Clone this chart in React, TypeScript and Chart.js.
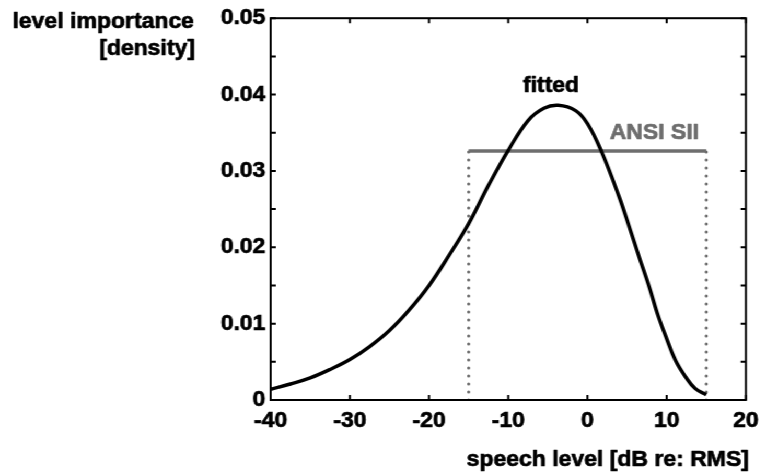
import React, { useEffect, useRef } from 'react';
import { Chart, registerables } from 'chart.js';

Chart.register(...registerables);

// ---- data ----
const fittedLevels = [-40, -37.5, -35, -32.5, -30, -27.5, -25, -22.5, -20, -17.5, -15, -12.5, -10, -7.5, -5.5, -3.7, -1.5, 0, 1.75, 4, 5.3, 6.5, 7.8, 8.8, 9.9, 11.1, 12.4, 13.6, 15];
const fittedDensity = [0.0014, 0.0021, 0.0029, 0.004, 0.0053, 0.007, 0.0091, 0.0118, 0.015, 0.0189, 0.0231, 0.0281, 0.0327, 0.0366, 0.0382, 0.0386, 0.0379, 0.0362, 0.0326, 0.0266, 0.0226, 0.0188, 0.0148, 0.0114, 0.0083, 0.0052, 0.003, 0.0015, 0.0007];
const ansiLevels = [-15, 15];
const ansiDensity = 0.0326;
const xTickValues = [-40, -30, -20, -10, 0, 10, 20];
const yLabelValues = [0, 0.01, 0.02, 0.03, 0.04, 0.05];
const yTitleLines = ['level importance', '[density]'];
const xTitle = 'speech level [dB re: RMS]';
const fittedLabel = 'fitted';
const ansiLabel = 'ANSI SII';

const SX = 1.045;
const W = 734;
const H = 474;
const FONT = '"Liberation Sans", Arial, Helvetica, sans-serif';
const FS = 22;
const GRAY = '#6e6e6e';
const STROKE = 0.7;

const frame = {
  id: 'frame',
  afterDraw(chart: any) {
    const { ctx, chartArea: a, scales } = chart;
    const x = scales.x;
    const y = scales.y;
    ctx.save();
    ctx.strokeStyle = '#000';
    ctx.lineWidth = 2;
    ctx.strokeRect(a.left, a.top, a.right - a.left, a.bottom - a.top);
    const tl = 5;
    ctx.beginPath();
    x.ticks.forEach((t: any) => {
      const px = x.getPixelForValue(t.value);
      ctx.moveTo(px, a.bottom);
      ctx.lineTo(px, a.bottom - tl);
      ctx.moveTo(px, a.top);
      ctx.lineTo(px, a.top + tl);
    });
    y.ticks.forEach((t: any) => {
      const py = y.getPixelForValue(t.value);
      ctx.moveTo(a.left, py);
      ctx.lineTo(a.left + tl, py);
      ctx.moveTo(a.right, py);
      ctx.lineTo(a.right - tl, py);
    });
    ctx.stroke();

    const txt = (s: string, px: number, py: number, color: string) => {
      ctx.fillStyle = color;
      ctx.strokeStyle = color;
      ctx.lineWidth = STROKE;
      ctx.lineJoin = 'round';
      ctx.fillText(s, px, py);
      ctx.strokeText(s, px, py);
    };

    ctx.font = `bold ${FS}px ${FONT}`;
    ctx.textBaseline = 'alphabetic';
    ctx.textAlign = 'right';
    txt(yTitleLines[0], 185.6, 28, '#000');
    txt(yTitleLines[1], 186.6, 55, '#000');
    txt(xTitle, 716.7, 466, '#000');

    ctx.textAlign = 'center';
    txt(fittedLabel, x.getPixelForValue(-4.6), y.getPixelForValue(0.0403), '#000');
    ctx.textAlign = 'left';
    txt(ansiLabel, x.getPixelForValue(2.8), y.getPixelForValue(0.0342), GRAY);
    ctx.restore();
  },
};

export default function App() {
  const ref = useRef<HTMLCanvasElement | null>(null);

  useEffect(() => {
    document.body.style.margin = '0';
    const canvas = ref.current;
    if (!canvas) return;
    const dotted = {
      borderColor: '#6a6a6a',
      borderWidth: 3,
      borderDash: [0, 8],
      borderCapStyle: 'round',
      pointRadius: 0,
      fill: false,
    };
    const tickFont = { family: FONT, size: FS, weight: 'bold' };
    const chart = new Chart(canvas, {
      type: 'line',
      data: {
        datasets: [
          {
            label: fittedLabel,
            data: fittedLevels.map((v, i) => ({ x: v, y: fittedDensity[i] })),
            borderColor: '#000',
            borderWidth: 3.5,
            pointRadius: 0,
            tension: 0.4,
            fill: false,
          },
          {
            label: ansiLabel,
            data: ansiLevels.map((v) => ({ x: v, y: ansiDensity })),
            borderColor: GRAY,
            borderWidth: 3.5,
            pointRadius: 0,
            fill: false,
          },
          {
            label: 'lower',
            data: [{ x: ansiLevels[0], y: 0 }, { x: ansiLevels[0], y: ansiDensity }],
            ...dotted,
          },
          {
            label: 'upper',
            data: [{ x: ansiLevels[1], y: 0 }, { x: ansiLevels[1], y: ansiDensity }],
            ...dotted,
          },
        ],
      },
      options: {
        animation: false,
        responsive: false,
        devicePixelRatio: 1,
        layout: { padding: { left: 0, right: 15, top: 17, bottom: 0 } },
        plugins: { legend: { display: false }, tooltip: { enabled: false } },
        scales: {
          x: {
            type: 'linear',
            min: xTickValues[0],
            max: xTickValues[xTickValues.length - 1],
            afterBuildTicks: (s: any) => {
              s.ticks = xTickValues.map((v) => ({ value: v }));
            },
            afterFit: (s: any) => {
              s.height = 74;
            },
            grid: { display: false, drawTicks: false },
            border: { display: false },
            ticks: {
              autoSkip: false,
              maxRotation: 0,
              padding: 8,
              color: '#000',
              textStrokeColor: '#000',
              textStrokeWidth: STROKE,
              font: tickFont,
              callback: (v: any) => String(v),
            },
          },
          y: {
            type: 'linear',
            min: yLabelValues[0],
            max: yLabelValues[yLabelValues.length - 1],
            ticks: {
              stepSize: 0.005,
              autoSkip: false,
              padding: 5,
              color: '#000',
              textStrokeColor: '#000',
              textStrokeWidth: STROKE,
              font: tickFont,
              callback: (v: any) => {
                const n = Number(v);
                const hit = yLabelValues.find((l) => Math.abs(l - n) < 1e-9);
                return hit === undefined ? '' : String(hit);
              },
            },
            afterFit: (s: any) => {
              s.width = 259;
            },
            grid: { display: false, drawTicks: false },
            border: { display: false },
          },
        },
      },
      plugins: [frame],
    } as any);
    return () => chart.destroy();
  }, []);

  return (
    <div
      style={{
        position: 'absolute',
        left: 0,
        top: 0,
        width: W,
        height: H,
        transform: `scaleX(${SX})`,
        transformOrigin: '0 0',
        background: '#fff',
      }}
    >
      <canvas ref={ref} width={W} height={H} />
    </div>
  );
}
